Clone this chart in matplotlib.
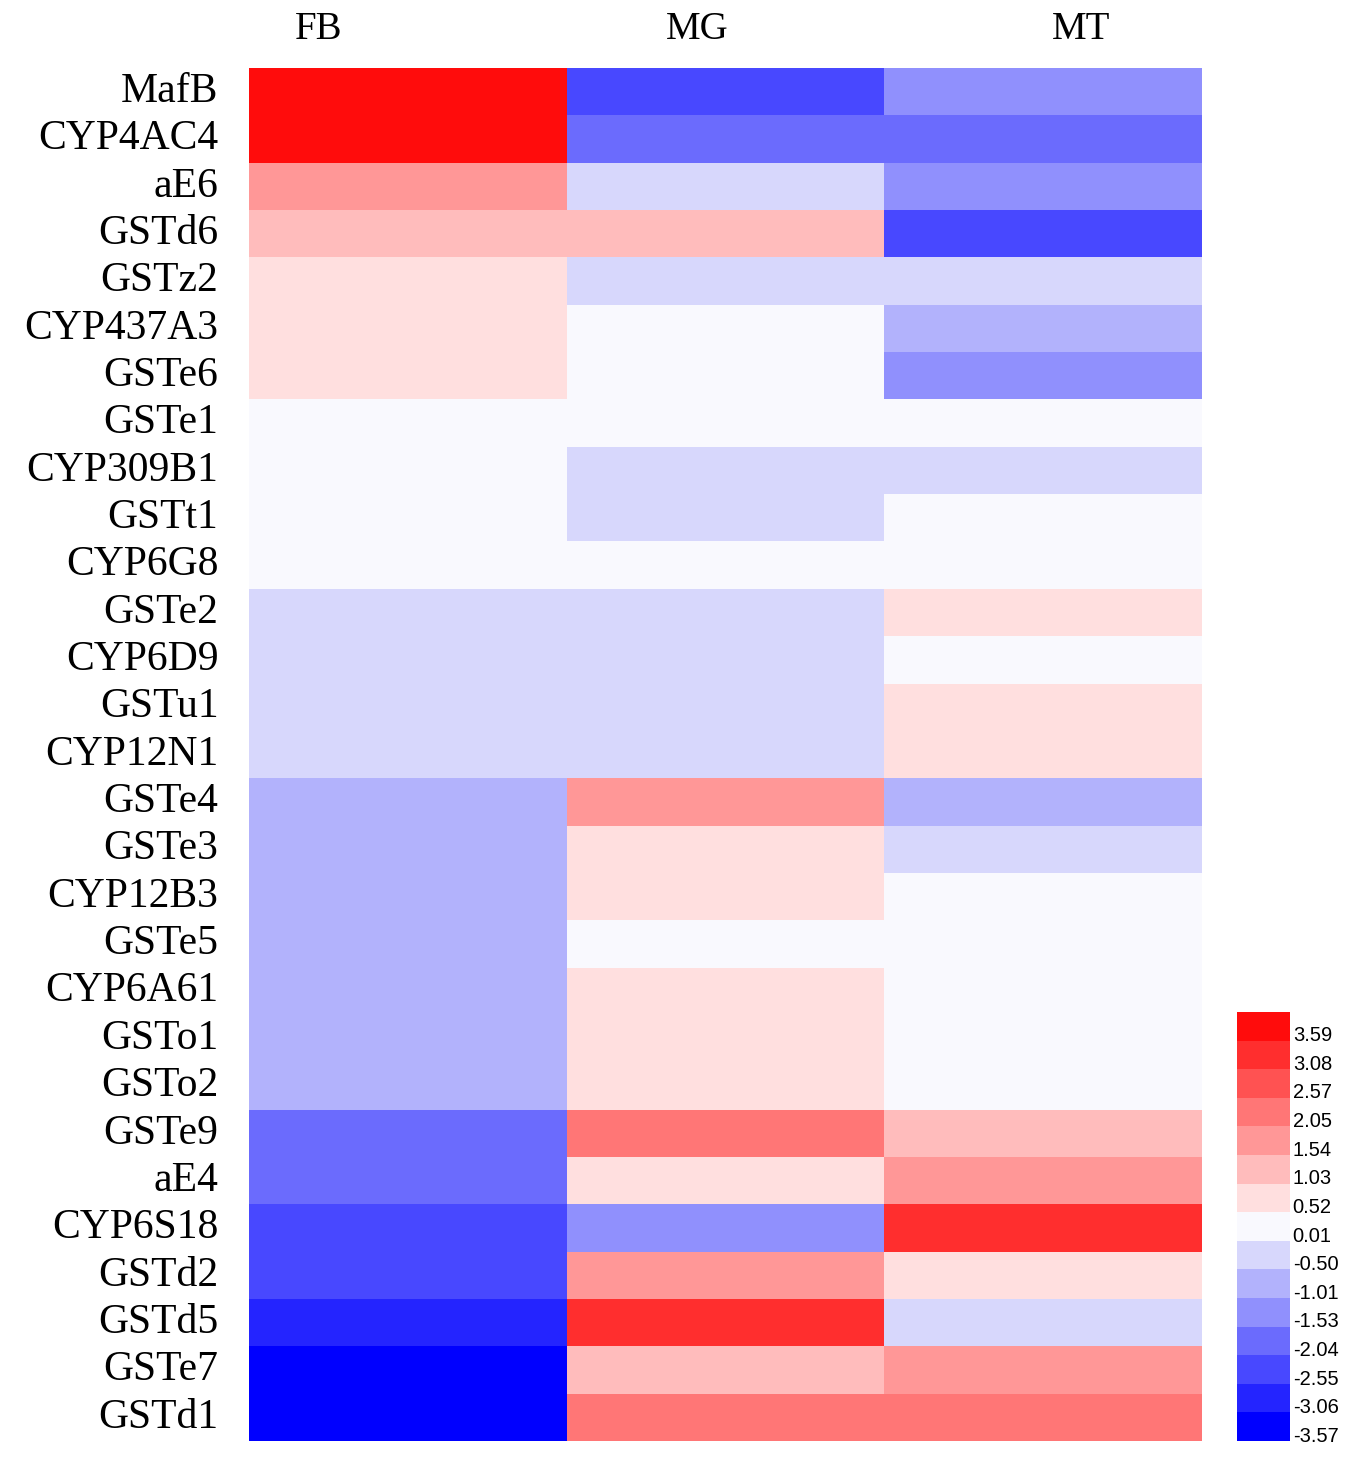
import numpy as np
import matplotlib
matplotlib.use("Agg")
import matplotlib.pyplot as plt
from matplotlib.colors import ListedColormap, BoundaryNorm

genes = ["MafB", "CYP4AC4", "aE6", "GSTd6", "GSTz2", "CYP437A3", "GSTe6", "GSTe1",
         "CYP309B1", "GSTt1", "CYP6G8", "GSTe2", "CYP6D9", "GSTu1", "CYP12N1",
         "GSTe4", "GSTe3", "CYP12B3", "GSTe5", "CYP6A61", "GSTo1", "GSTo2",
         "GSTe9", "aE4", "CYP6S18", "GSTd2", "GSTd5", "GSTe7", "GSTd1"]
tissues = ["FB", "MG", "MT"]

fb = [3.59, 3.59, 1.54, 1.03, 0.52, 0.52, 0.52, 0.01, 0.01, 0.01, 0.01,
      -0.50, -0.50, -0.50, -0.50, -1.01, -1.01, -1.01, -1.01, -1.01, -1.01, -1.01,
      -2.04, -2.04, -2.55, -2.55, -3.06, -3.57, -3.57]
mg = [-2.55, -2.04, -0.50, 1.03, -0.50, 0.01, 0.01, 0.01, -0.50, -0.50, 0.01,
      -0.50, -0.50, -0.50, -0.50, 1.54, 0.52, 0.52, 0.01, 0.52, 0.52, 0.52,
      2.05, 0.52, -1.53, 1.54, 3.08, 1.03, 2.05]
mt = [-1.53, -2.04, -1.53, -2.55, -0.50, -1.01, -1.53, 0.01, -0.50, 0.01, 0.01,
      0.52, 0.01, 0.52, 0.52, -1.01, -0.50, 0.01, 0.01, 0.01, 0.01, 0.01,
      1.03, 1.54, 3.08, 0.52, -0.50, 1.54, 2.05]

levels = [-3.57, -3.06, -2.55, -2.04, -1.53, -1.01, -0.50, 0.01,
          0.52, 1.03, 1.54, 2.05, 2.57, 3.08, 3.59]
level_colors = ["#0000FF", "#2424FF", "#4848FF", "#6B6BFD", "#9090FD", "#B2B2FC",
                "#D7D7FC", "#F9F9FE", "#FFDFDF", "#FFBCBC", "#FF9797", "#FF7676",
                "#FF5252", "#FF2E2E", "#FF0C0C"]

data = np.column_stack([fb, mg, mt])

lv = np.array(levels)
bounds = np.concatenate([[lv[0] - 0.255], (lv[:-1] + lv[1:]) / 2, [lv[-1] + 0.255]])
cmap = ListedColormap(level_colors)
norm = BoundaryNorm(bounds, cmap.N)

fig = plt.figure(figsize=(13.59, 14.62), dpi=100)
ax = fig.add_axes([0.1832, 0.01436, 0.7013, 0.9391])
mesh = ax.pcolormesh(data, cmap=cmap, norm=norm)
ax.set_xlim(0, 3)
ax.set_ylim(len(genes), 0)
for s in ax.spines.values():
    s.set_visible(False)
ax.set_xticks([])
ax.set_yticks(np.arange(len(genes)) + 0.5)
ax.set_yticklabels(genes, fontfamily="Liberation Serif", fontsize=30, va="center")
ax.tick_params(axis="y", length=0, pad=22)
for t in ax.get_yticklabels():
    t.set_y(t.get_position()[1])

col_x = [0.22, 1.41, 2.62]
for xc, name in zip(col_x, tissues):
    ax.text(xc, -0.82, name, ha="center", va="center",
            fontfamily="Liberation Serif", fontsize=28)

cax = fig.add_axes([0.9102, 0.01436, 0.039, 0.2934])
cb = fig.colorbar(mesh, cax=cax, ticks=levels)
cb.outline.set_visible(False)
cb.ax.minorticks_off()
cb.ax.set_yticklabels([f"{v:.2f}" for v in levels],
                      fontfamily="Liberation Sans", fontsize=14.5, va="top")
cb.ax.tick_params(which="both", length=0, pad=2)

fig.savefig("out.png", dpi=100)
